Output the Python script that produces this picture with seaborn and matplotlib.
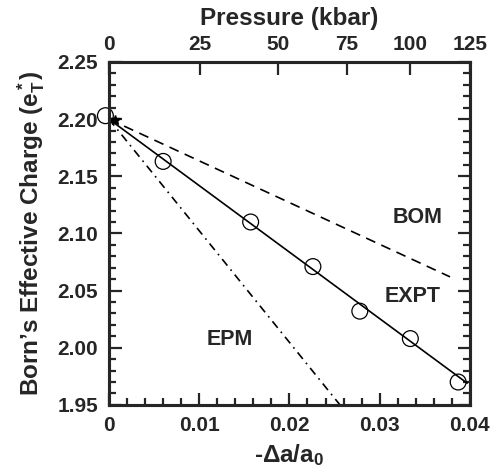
import numpy as np
import pandas as pd
import matplotlib
matplotlib.use('Agg')
import matplotlib.pyplot as plt
import seaborn as sns
from matplotlib.ticker import MultipleLocator, FuncFormatter

# measured points (open circles)
strain_pts = [-0.0004, 0.0060, 0.0157, 0.0226, 0.0278, 0.0334, 0.0387]
charge_pts = [2.203, 2.163, 2.110, 2.071, 2.032, 2.008, 1.970]

# model / fit lines (start and end points)
expt_x = [0.0, 0.0397]
expt_y = [2.200, 1.969]
bom_x = [0.0, 0.0378]
bom_y = [2.200, 2.062]
epm_x = [0.0, 0.0256]
epm_y = [2.200, 1.950]

# top axis: pressure ticks and their strain positions
pressure_labels = ['0', '25', '50', '75', '100', '125']
pressure_pos = [0.0, 0.0101, 0.0187, 0.0264, 0.0334, 0.0400]

sns.set_style('ticks')
plt.rcParams['font.family'] = ['Liberation Sans', 'DejaVu Sans']
plt.rcParams['font.weight'] = 'bold'
plt.rcParams['mathtext.fontset'] = 'custom'
plt.rcParams['mathtext.rm'] = 'Liberation Sans:bold'
plt.rcParams['mathtext.it'] = 'Liberation Sans:bold'
plt.rcParams['mathtext.bf'] = 'Liberation Sans:bold'

fig = plt.figure(figsize=(4.91, 4.73), dpi=100)
ax = fig.add_axes([0.222, 0.144, 0.735, 0.725])

lw = 1.2
sns.lineplot(x=expt_x, y=expt_y, ax=ax, color='black', lw=lw)
sns.lineplot(x=bom_x, y=bom_y, ax=ax, color='black', lw=lw, linestyle=(0, (6, 4)))
sns.lineplot(x=epm_x, y=epm_y, ax=ax, color='black', lw=lw, linestyle=(0, (5, 3, 1, 3)))
sns.scatterplot(x=strain_pts, y=charge_pts, ax=ax, s=130, facecolor='none',
                edgecolor='black', linewidth=0.9, zorder=5, clip_on=False)
ax.plot([0.0007], [2.199], marker='*', color='black', ms=7, clip_on=False, zorder=6)

ax.text(0.0342, 2.1135, 'BOM', ha='center', va='center', fontsize=15.5, fontweight='bold')
ax.text(0.0337, 2.0444, 'EXPT', ha='center', va='center', fontsize=15.5, fontweight='bold')
ax.text(0.0134, 2.007, 'EPM', ha='center', va='center', fontsize=15.5, fontweight='bold')

ax.set_xlim(0, 0.04)
ax.set_ylim(1.95, 2.25)
ax.xaxis.set_major_locator(MultipleLocator(0.01))
ax.xaxis.set_minor_locator(MultipleLocator(0.002))
ax.yaxis.set_major_locator(MultipleLocator(0.05))
ax.yaxis.set_minor_locator(MultipleLocator(0.01))
ax.xaxis.set_major_formatter(FuncFormatter(lambda v, p: '0' if abs(v) < 1e-9 else f'{v:.2f}'))
ax.yaxis.set_major_formatter(FuncFormatter(lambda v, p: f'{v:.2f}'))

ax.tick_params(which='both', direction='in', right=True, top=False, width=1.6, labelsize=15)
ax.tick_params(which='major', length=9, pad=8)
ax.tick_params(which='minor', length=5)
for s in ax.spines.values():
    s.set_linewidth(2.2)
    s.set_visible(True)

ax.set_xlabel('-Δa/a$_0$', fontsize=17.5, fontweight='bold', labelpad=5)
ax.set_ylabel('Born’s Effective Charge (e$_T^*$)', fontsize=17.5, fontweight='bold', labelpad=7)

top = ax.twiny()
top.set_xlim(ax.get_xlim())
top.set_xticks(pressure_pos)
top.set_xticklabels(pressure_labels)
top.tick_params(direction='in', length=9, width=1.6, labelsize=15, pad=6)
for s in top.spines.values():
    s.set_linewidth(2.2)
top.set_xlabel('Pressure (kbar)', fontsize=17.5, fontweight='bold', labelpad=7)

fig.savefig('out.png', dpi=100)
